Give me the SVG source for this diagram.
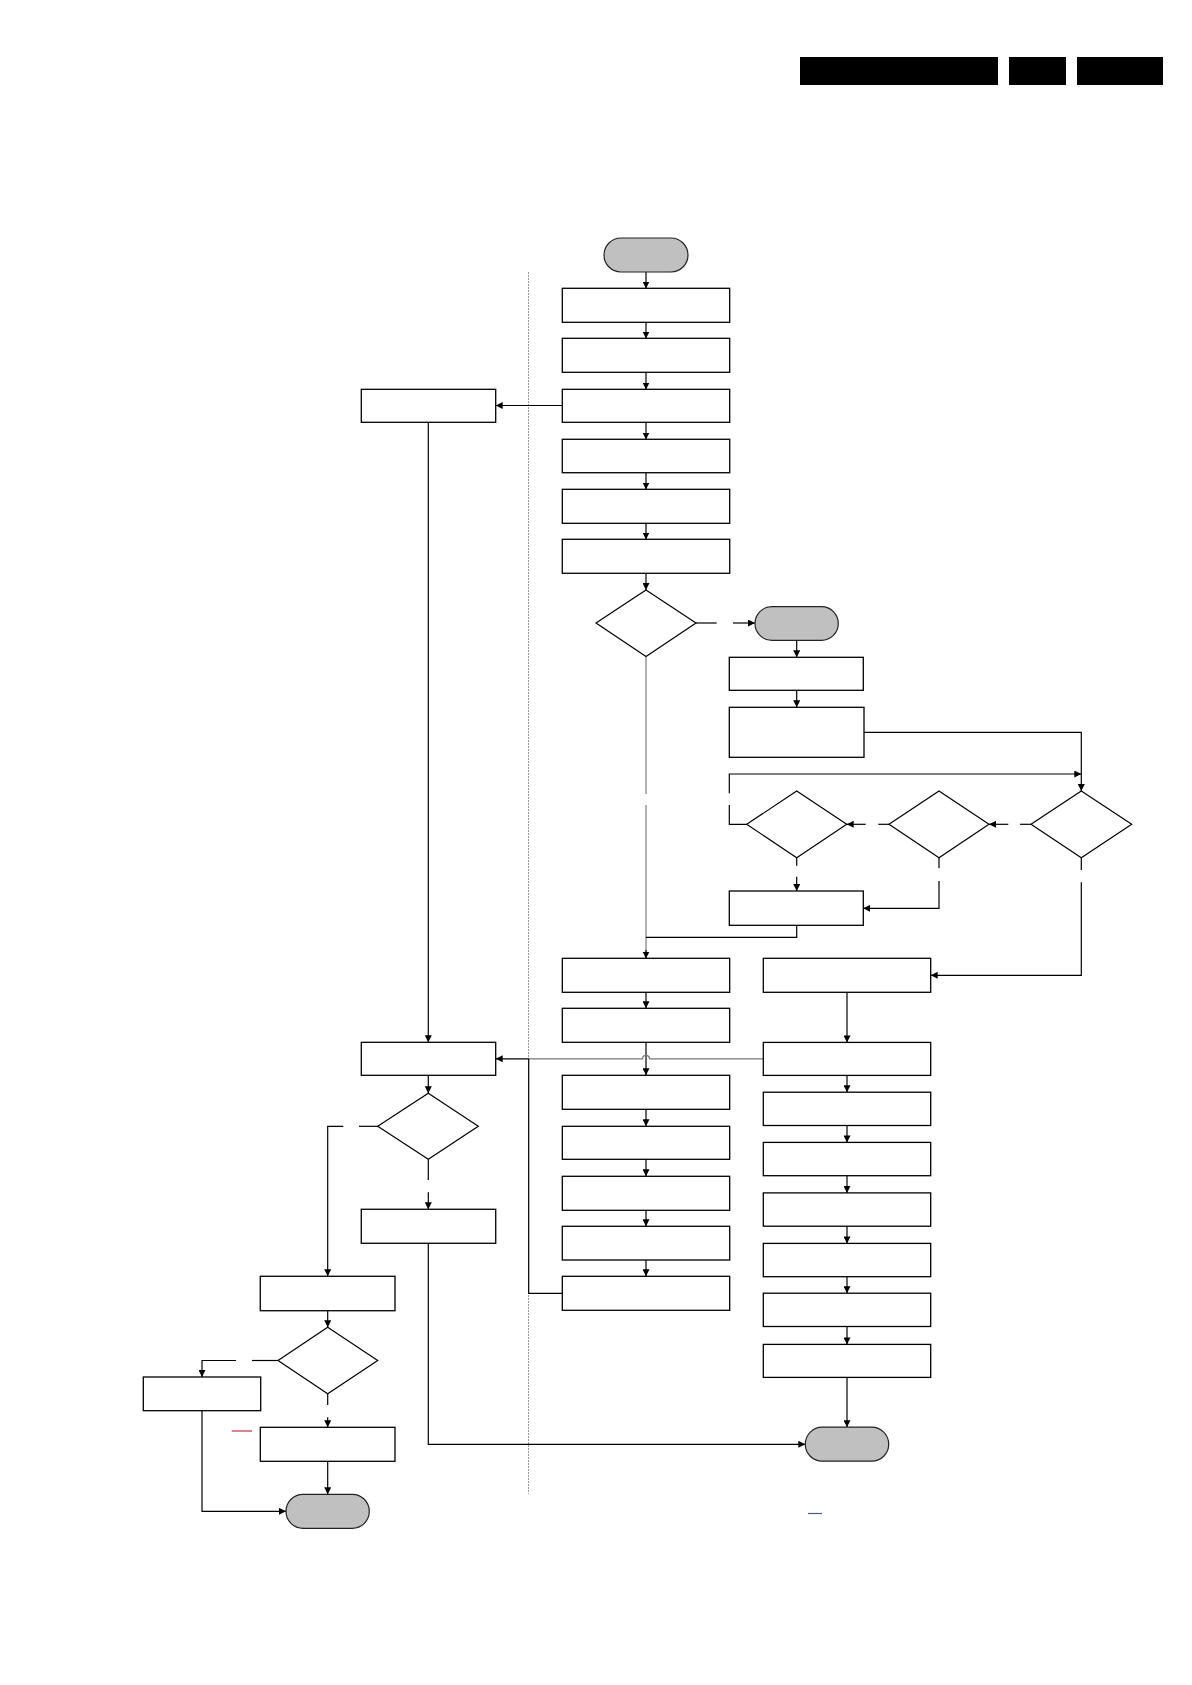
<svg xmlns="http://www.w3.org/2000/svg" width="1192" height="1685" viewBox="0 0 1192 1685">
<style>
.b{fill:#fff;stroke:#000;stroke-width:1.3}
.bg{fill:#fff;stroke:#111;stroke-width:1.4}
.t{fill:#c0c0c0;stroke:#222;stroke-width:1.2}
.d{fill:#fff;stroke:#000;stroke-width:1.2}
.c{fill:none;stroke:#000;stroke-width:1.2}
.cg{fill:none;stroke:#999;stroke-width:1.5}
.cg2{fill:none;stroke:#777;stroke-width:1.3}
.a{marker-end:url(#ah)}
</style>
<defs>
<marker id="ah" markerUnits="userSpaceOnUse" markerWidth="8" markerHeight="7" refX="7" refY="3.5" orient="auto">
<path d="M0,0 L7,3.5 L0,7 z" fill="#000"/>
</marker>
</defs>
<rect width="1192" height="1685" fill="#fff"/>
<g id="header">
<rect x="800" y="57" width="198" height="28" fill="#000"/>
<rect x="1009" y="57" width="57" height="28" fill="#000"/>
<rect x="1077" y="57" width="86" height="28" fill="#000"/>
</g>
<g id="divider">
<line x1="528.5" y1="272" x2="528.5" y2="1494" stroke="#999" stroke-width="1" stroke-dasharray="2,1"/>
</g>
<g id="connectors">
<line class="c a" x1="646" y1="272" x2="646" y2="288.5"/>
<line class="c a" x1="646" y1="322.5" x2="646" y2="338.5"/>
<line class="c a" x1="646" y1="372.5" x2="646" y2="389.5"/>
<line class="c a" x1="646" y1="422.5" x2="646" y2="439.5"/>
<line class="c a" x1="646" y1="473" x2="646" y2="489.5"/>
<line class="c a" x1="646" y1="523" x2="646" y2="539.5"/>
<line class="c a" x1="646" y1="573" x2="646" y2="590"/>
<line class="c" x1="696" y1="623" x2="716.7" y2="623"/>
<line class="c a" x1="733" y1="623" x2="755" y2="623"/>
<line class="cg" x1="646" y1="656.5" x2="646" y2="794"/>
<line class="cg" x1="646" y1="805" x2="646" y2="952"/>
<line class="c a" x1="646" y1="950" x2="646" y2="958.5"/>
<line class="c a" x1="796.7" y1="640.3" x2="796.7" y2="657.3"/>
<line class="c a" x1="796.7" y1="690.3" x2="796.7" y2="707.3"/>
<polyline class="c a" points="864,732.3 1081.3,732.3 1081.3,791"/>
<line class="c" x1="1031" y1="824.3" x2="1020" y2="824.3"/>
<line class="c a" x1="1008.3" y1="824.3" x2="989" y2="824.3"/>
<line class="c" x1="889" y1="824.3" x2="878.3" y2="824.3"/>
<line class="c a" x1="865.7" y1="824.3" x2="846.7" y2="824.3"/>
<polyline class="c" points="746.7,824.3 729.3,824.3 729.3,805"/>
<polyline class="c a" points="729.3,793.3 729.3,774 1081.3,774"/>
<line class="c" x1="796.7" y1="857.7" x2="796.7" y2="865.7"/>
<line class="c a" x1="796.7" y1="876.7" x2="796.7" y2="891"/>
<line class="c" x1="939" y1="857.7" x2="939" y2="868.3"/>
<polyline class="c a" points="939,881 939,908.3 863.3,908.3"/>
<line class="c" x1="1081.3" y1="857.7" x2="1081.3" y2="870"/>
<polyline class="c a" points="1081.3,882.3 1081.3,975.3 930.7,975.3"/>
<polyline class="c" points="796.7,925.3 796.7,937.3 646,937.3"/>
<line class="c a" x1="646" y1="992.3" x2="646" y2="1008.3"/>
<line class="c a" x1="646" y1="1042.3" x2="646" y2="1075.3"/>
<line class="c a" x1="646" y1="1109.3" x2="646" y2="1126.3"/>
<line class="c a" x1="646" y1="1159.3" x2="646" y2="1176.3"/>
<line class="c a" x1="646" y1="1210.3" x2="646" y2="1226.3"/>
<line class="c a" x1="646" y1="1260" x2="646" y2="1276.3"/>
<line class="c a" x1="847" y1="992.3" x2="847" y2="1042.4"/>
<line class="c a" x1="847" y1="1075.4" x2="847" y2="1092.2"/>
<line class="c a" x1="847" y1="1125.5" x2="847" y2="1142.4"/>
<line class="c a" x1="847" y1="1175.5" x2="847" y2="1192.9"/>
<line class="c a" x1="847" y1="1226" x2="847" y2="1243.4"/>
<line class="c a" x1="847" y1="1276.5" x2="847" y2="1293.2"/>
<line class="c a" x1="847" y1="1326.5" x2="847" y2="1344.4"/>
<line class="c a" x1="847" y1="1377.4" x2="847" y2="1427.2"/>
<path class="cg2" d="M763.3,1058.8 L649.5,1058.8 A3.5,3.5 0 0 0 642.5,1058.8 L528.7,1058.8"/>
<line class="c a" x1="528.7" y1="1058.8" x2="495.7" y2="1058.8"/>
<polyline class="c" points="562.3,1293.3 528.7,1293.3 528.7,1058.8"/>
<line class="c a" x1="562.3" y1="405.5" x2="495.7" y2="405.5"/>
<line class="c a" x1="428.3" y1="422.3" x2="428.3" y2="1042.3"/>
<line class="c a" x1="428.3" y1="1075.3" x2="428.3" y2="1093.3"/>
<line class="c" x1="428.3" y1="1159.3" x2="428.3" y2="1180"/>
<line class="c a" x1="428.3" y1="1192.3" x2="428.3" y2="1209.3"/>
<polyline class="c a" points="428.3,1243.3 428.3,1444.3 805.3,1444.3"/>
<line class="c" x1="377.7" y1="1126.3" x2="359" y2="1126.3"/>
<polyline class="c a" points="343.3,1126.3 327.7,1126.3 327.7,1276.3"/>
<line class="c a" x1="327.7" y1="1310.7" x2="327.7" y2="1327.3"/>
<line class="c" x1="278" y1="1360.5" x2="252" y2="1360.5"/>
<polyline class="c a" points="236,1360.5 202,1360.5 202,1377"/>
<line class="c" x1="327.7" y1="1393.7" x2="327.7" y2="1405"/>
<line class="c a" x1="327.7" y1="1417.3" x2="327.7" y2="1427.3"/>
<line class="c a" x1="327.7" y1="1461.3" x2="327.7" y2="1494.3"/>
<polyline class="c a" points="202,1410.7 202,1511.3 286,1511.3"/>
</g>
<g id="marks">
<line x1="231.7" y1="1431" x2="252" y2="1431" stroke="#c0304a" stroke-width="1.2"/>
<line x1="808" y1="1513.5" x2="822" y2="1513.5" stroke="#4a5a9a" stroke-width="1.2"/>
</g>
<g id="start"><rect class="t" x="604" y="238" width="84" height="34" rx="17"/></g>
<g id="m1"><rect class="b" x="562.3" y="288.3" width="167.4" height="34"/></g>
<g id="m2"><rect class="b" x="562.3" y="338.3" width="167.4" height="34"/></g>
<g id="m3"><rect class="b" x="562.3" y="389.3" width="167.4" height="33"/></g>
<g id="m4"><rect class="bg" x="562.3" y="439.3" width="167.4" height="33.4"/></g>
<g id="m5"><rect class="b" x="562.3" y="489.3" width="167.4" height="34"/></g>
<g id="m6"><rect class="bg" x="562.3" y="539.3" width="167.4" height="34"/></g>
<g id="dec1"><polygon class="d" points="646,590 696,623 646,656.5 596,623"/></g>
<g id="term2"><rect class="t" x="755" y="606.7" width="83.3" height="33.6" rx="16.8"/></g>
<g id="rA"><rect class="b" x="729.3" y="657.3" width="134" height="33"/></g>
<g id="rB"><rect class="b" x="729.3" y="707.3" width="134.7" height="50"/></g>
<g id="decC"><polygon class="d" points="796.7,791 846.7,824.3 796.7,857.7 746.7,824.3"/></g>
<g id="decD"><polygon class="d" points="939,791 989,824.3 939,857.7 889,824.3"/></g>
<g id="decE"><polygon class="d" points="1081.3,791 1131.7,824.3 1081.3,857.7 1031,824.3"/></g>
<g id="rF"><rect class="b" x="729.3" y="891" width="134" height="34.3"/></g>
<g id="m7"><rect class="b" x="562.3" y="958.3" width="167.4" height="34"/></g>
<g id="m8"><rect class="b" x="562.3" y="1008.3" width="167.4" height="34"/></g>
<g id="m9"><rect class="b" x="562.3" y="1075.3" width="167.4" height="34"/></g>
<g id="m10"><rect class="b" x="562.3" y="1126.3" width="167.4" height="33"/></g>
<g id="m11"><rect class="b" x="562.3" y="1176.3" width="167.4" height="34"/></g>
<g id="m12"><rect class="bg" x="562.3" y="1226.3" width="167.4" height="33.7"/></g>
<g id="m13"><rect class="b" x="562.3" y="1276.3" width="167.4" height="34"/></g>
<g id="rG"><rect class="b" x="763.3" y="958.3" width="167.4" height="34"/></g>
<g id="r1"><rect class="b" x="763.3" y="1042.4" width="167.4" height="33"/></g>
<g id="r2"><rect class="b" x="763.3" y="1092.2" width="167.4" height="33.3"/></g>
<g id="r3"><rect class="b" x="763.3" y="1142.4" width="167.4" height="33.3"/></g>
<g id="r4"><rect class="b" x="763.3" y="1192.9" width="167.4" height="33.3"/></g>
<g id="r5"><rect class="b" x="763.3" y="1243.4" width="167.4" height="33.3"/></g>
<g id="r6"><rect class="b" x="763.3" y="1293.2" width="167.4" height="33.3"/></g>
<g id="r7"><rect class="b" x="763.3" y="1344.4" width="167.4" height="33"/></g>
<g id="endR"><rect class="t" x="805.3" y="1427.2" width="83.4" height="34" rx="17"/></g>
<g id="lA"><rect class="b" x="361.3" y="389.3" width="134.4" height="33"/></g>
<g id="lH"><rect class="b" x="361.3" y="1042.3" width="134.4" height="33"/></g>
<g id="decI"><polygon class="d" points="428.3,1093.3 478.3,1126.3 428.3,1159.3 377.7,1126.3"/></g>
<g id="lK"><rect class="bg" x="361.3" y="1209.3" width="134.4" height="34"/></g>
<g id="lJ"><rect class="bg" x="260.3" y="1276.3" width="134.7" height="34.4"/></g>
<g id="decL"><polygon class="d" points="327.7,1327.3 377.7,1360.5 327.7,1393.7 278,1360.5"/></g>
<g id="lM"><rect class="b" x="143.3" y="1377" width="117.4" height="33.7"/></g>
<g id="lN"><rect class="b" x="260.3" y="1427.3" width="134.7" height="34"/></g>
<g id="endL"><rect class="t" x="286" y="1494.3" width="83.3" height="34" rx="17"/></g>
</svg>
